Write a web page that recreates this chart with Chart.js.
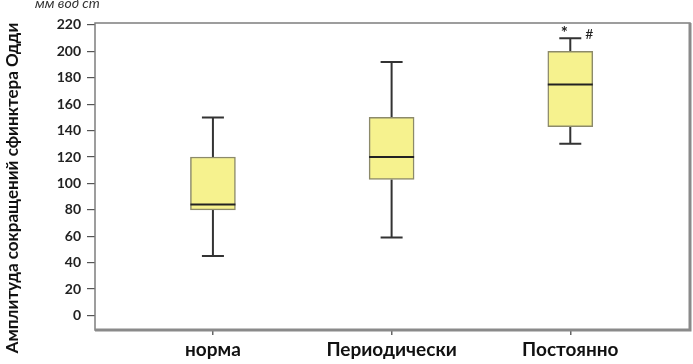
<!DOCTYPE html>
<html>
<head>
<meta charset="utf-8">
<script src="https://cdn.jsdelivr.net/npm/chart.js@4"></script>
<style>
  html, body { margin: 0; padding: 0; background: #fff; }
  #wrap { width: 693px; height: 364px; }
</style>
</head>
<body>
<div id="wrap"><canvas id="chart"></canvas></div>
<script>
const categories = ['норма', 'Периодически', 'Постоянно'];
const whiskerLow = [45, 59, 130];
const q1 = [80, 103, 143];
const median = [84, 120, 175];
const q3 = [120, 150, 200];
const whiskerHigh = [150, 192, 210];
const yTicks = [0, 20, 40, 60, 80, 100, 120, 140, 160, 180, 200, 220];
const unitLabel = 'мм вод ст';
const yTitle = 'Амплитуда сокращений сфинктера Одди';

// whiskers, medians, significance marks, frame and titles
const boxExtras = {
  id: 'boxExtras',
  beforeDatasetsDraw(chart) {
    const ctx = chart.ctx;
    const x = chart.scales.x, y = chart.scales.y;
    ctx.save();
    ctx.strokeStyle = '#333';
    ctx.lineWidth = 2;
    categories.forEach((c, i) => {
      const px = x.getPixelForValue(i + 1);
      ctx.beginPath();
      ctx.moveTo(px, y.getPixelForValue(whiskerLow[i]));
      ctx.lineTo(px, y.getPixelForValue(q1[i]));
      ctx.moveTo(px, y.getPixelForValue(q3[i]));
      ctx.lineTo(px, y.getPixelForValue(whiskerHigh[i]));
      ctx.moveTo(px - 11, y.getPixelForValue(whiskerLow[i]));
      ctx.lineTo(px + 11, y.getPixelForValue(whiskerLow[i]));
      ctx.moveTo(px - 11, y.getPixelForValue(whiskerHigh[i]));
      ctx.lineTo(px + 11, y.getPixelForValue(whiskerHigh[i]));
      ctx.stroke();
    });
    ctx.restore();
  },
  afterDatasetsDraw(chart) {
    const ctx = chart.ctx;
    const x = chart.scales.x, y = chart.scales.y;
    const meta = chart.getDatasetMeta(0);
    ctx.save();
    ctx.strokeStyle = '#222';
    ctx.lineWidth = 2;
    categories.forEach((c, i) => {
      const px = x.getPixelForValue(i + 1);
      const half = meta.data[i].width / 2;
      const py = y.getPixelForValue(median[i]);
      ctx.beginPath();
      ctx.moveTo(px - half, py);
      ctx.lineTo(px + half, py);
      ctx.stroke();
    });
    // significance marks on the last group
    const last = categories.length - 1;
    const lx = x.getPixelForValue(last + 1);
    const ly = y.getPixelForValue(whiskerHigh[last]);
    ctx.fillStyle = '#222';
    ctx.font = 'bold 17px Lato';
    ctx.textAlign = 'center';
    ctx.textBaseline = 'middle';
    ctx.fillText('*', lx - 6, ly - 5);
    ctx.font = '14px Lato';
    ctx.fillText('#', lx + 19, ly - 4);

    // frame
    const a = chart.chartArea;
    ctx.strokeStyle = '#7d7d7d';
    ctx.lineWidth = 1.5;
    ctx.strokeRect(a.left, a.top, a.right - a.left, a.bottom - a.top);
    ctx.strokeStyle = '#8a8a8a';
    ctx.lineWidth = 3;
    ctx.beginPath();
    ctx.moveTo(a.right, a.top);
    ctx.lineTo(a.right, a.bottom);
    ctx.lineTo(a.left, a.bottom);
    ctx.stroke();

    // unit label
    ctx.fillStyle = '#333';
    ctx.font = 'italic 14px Lato';
    ctx.textAlign = 'left';
    ctx.fillText(unitLabel, 35, 3);

    // y axis title, sits a bit lower than the plot centre
    ctx.save();
    ctx.translate(13, 188);
    ctx.rotate(-Math.PI / 2);
    ctx.fillStyle = '#111';
    ctx.font = 'bold 17px Lato';
    ctx.textAlign = 'center';
    ctx.fillText(yTitle, 0, 0);
    ctx.restore();
    ctx.restore();
  }
};

new Chart(document.getElementById('chart'), {
  type: 'bar',
  data: {
    datasets: [{
      data: categories.map((c, i) => ({ x: i + 1, y: [q1[i], q3[i]] })),
      backgroundColor: '#f6f28e',
      borderColor: '#8c8a6a',
      borderWidth: 1.5,
      borderSkipped: false,
      barThickness: 45
    }]
  },
  options: {
    responsive: true,
    maintainAspectRatio: false,
    animation: false,
    layout: { padding: { top: 23, right: 3, left: 0, bottom: 0 } },
    plugins: { legend: { display: false }, tooltip: { enabled: false } },
    scales: {
      x: {
        type: 'linear',
        offset: false,
        min: 0.34,
        max: 3.67,
        afterBuildTicks: s => { s.ticks = categories.map((c, i) => ({ value: i + 1 })); },
        afterFit: s => { s.height = 34; },
        ticks: {
          callback: v => categories[v - 1],
          color: '#111',
          font: { family: 'Lato', size: 19, weight: 'bold' },
          padding: 3
        },
        grid: { offset: false, drawOnChartArea: false, tickLength: 5, color: '#666', lineWidth: 1.5 },
        border: { display: false }
      },
      y: {
        min: -11,
        max: 221.5,
        afterBuildTicks: s => { s.ticks = yTicks.map(v => ({ value: v })); },
        afterFit: s => { s.width = 95; },
        ticks: {
          color: '#222',
          font: { family: 'Lato', size: 14, weight: 'bold' },
          padding: 6
        },
        grid: { drawOnChartArea: false, tickLength: 8, color: '#555', lineWidth: 1.2 },
        border: { display: false }
      }
    }
  },
  plugins: [boxExtras]
});
</script>
</body>
</html>
